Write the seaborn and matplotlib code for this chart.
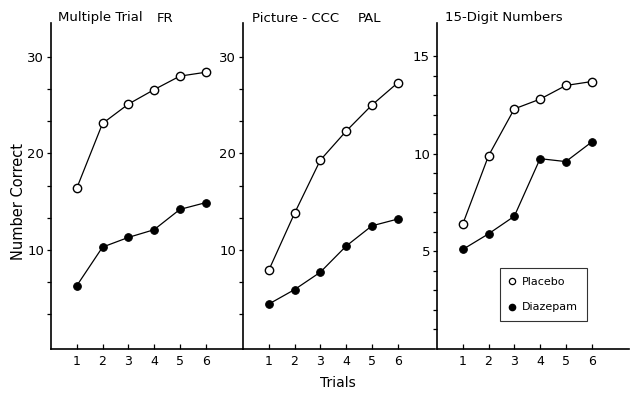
import seaborn as sns
import matplotlib.pyplot as plt
import pandas as pd
from matplotlib.ticker import FixedLocator
from matplotlib.lines import Line2D

# data
trials = [1, 2, 3, 4, 5, 6]

fr_placebo = [16.4, 23.1, 25.1, 26.6, 28.0, 28.4]
fr_diazepam = [6.3, 10.3, 11.3, 12.1, 14.2, 14.9]

pal_placebo = [7.9, 13.8, 19.3, 22.3, 25.0, 27.3]
pal_diazepam = [4.4, 5.9, 7.7, 10.4, 12.5, 13.2]

digit_placebo = [6.4, 9.9, 12.3, 12.8, 13.5, 13.7]
digit_diazepam = [5.1, 5.9, 6.8, 9.75, 9.6, 10.6]

panel_titles = [("Multiple Trial", "FR"), ("Picture - CCC", "PAL"), ("15-Digit Numbers", "")]

sns.set_style("ticks", {'axes.edgecolor': 'black', 'text.color': 'black',
                        'xtick.color': 'black', 'ytick.color': 'black'})
plt.rcParams['font.family'] = ['DejaVu Sans']

W, H = 634, 394
fig = plt.figure(figsize=(W / 100, H / 100), dpi=100)

lefts = [51, 243, 437]
bottom_px, top_px = 349, 23
width_px = 192

panels = [
    (fr_placebo, fr_diazepam, (-0.25, 33.5), [10, 20, 30], [10 / 3 * i for i in range(1, 10)]),
    (pal_placebo, pal_diazepam, (-0.25, 33.5), [10, 20, 30], [10 / 3 * i for i in range(1, 10)]),
    (digit_placebo, digit_diazepam, (0, 16.7), [5, 10, 15], list(range(1, 16))),
]

axes = []
for i, (plac, diaz, ylim, majors, minors) in enumerate(panels):
    ax = fig.add_axes([lefts[i] / W, 1 - bottom_px / H, width_px / W, (bottom_px - top_px) / H])
    df = pd.DataFrame({'trial': trials, 'placebo': plac, 'diazepam': diaz})
    sns.lineplot(data=df, x='trial', y='diazepam', ax=ax, color='black', lw=0.9,
                 marker='o', markersize=5.5, markerfacecolor='black', markeredgecolor='black')
    sns.lineplot(data=df, x='trial', y='placebo', ax=ax, color='black', lw=0.9,
                 marker='o', markersize=6, markerfacecolor='white', markeredgecolor='black',
                 markeredgewidth=1.0)
    ax.set_xlim(0, 7.45)
    ax.set_ylim(*ylim)
    ax.set_xticks(trials)
    ax.set_xticklabels(["1", "2", "3", "4", "5", "6"])
    ax.set_yticks(majors)
    ax.yaxis.set_minor_locator(FixedLocator(minors))
    ax.set_xlabel("")
    ax.set_ylabel("")
    sns.despine(ax=ax)
    for side in ['left', 'bottom']:
        ax.spines[side].set_linewidth(1.2)
    ax.tick_params(axis='y', which='both', direction='out', length=3, width=0.9, labelsize=9.5, pad=2)
    ax.tick_params(axis='x', direction='in', length=3.5, width=0.9, labelsize=9, pad=4)
    ax.patch.set_alpha(0)
    axes.append(ax)

# panel titles
title_pos = [(58, 157), (252, 358), (445, None)]
for (t1, t2), (x1, x2) in zip(panel_titles, title_pos):
    fig.text(x1 / W, 1 - 18 / H, t1, fontsize=9.5, va='center', ha='left')
    if t2:
        fig.text(x2 / W, 1 - 18 / H, t2, fontsize=9.5, va='center', ha='left')

fig.text(19 / W, 1 - 202 / H, "Number Correct", rotation=90, fontsize=10.5, va='center', ha='center')
fig.text(338 / W, 1 - 383 / H, "Trials", fontsize=10, va='center', ha='center')

handles = [
    Line2D([], [], ls='none', marker='o', ms=4.5, mfc='white', mec='black', mew=0.9),
    Line2D([], [], ls='none', marker='o', ms=4.5, mfc='black', mec='black'),
]
leg = axes[2].legend(handles, ["Placebo", "Diazepam"], loc='upper left',
                     bbox_to_anchor=(500 / W, 1 - 268 / H), bbox_transform=fig.transFigure,
                     borderaxespad=0, fontsize=8, frameon=True, fancybox=False,
                     handlelength=0.6, handletextpad=0.6, labelspacing=1.4, borderpad=0.8)
leg.get_frame().set_edgecolor('black')
leg.get_frame().set_linewidth(0.8)

fig.savefig("out.png", dpi=100)
